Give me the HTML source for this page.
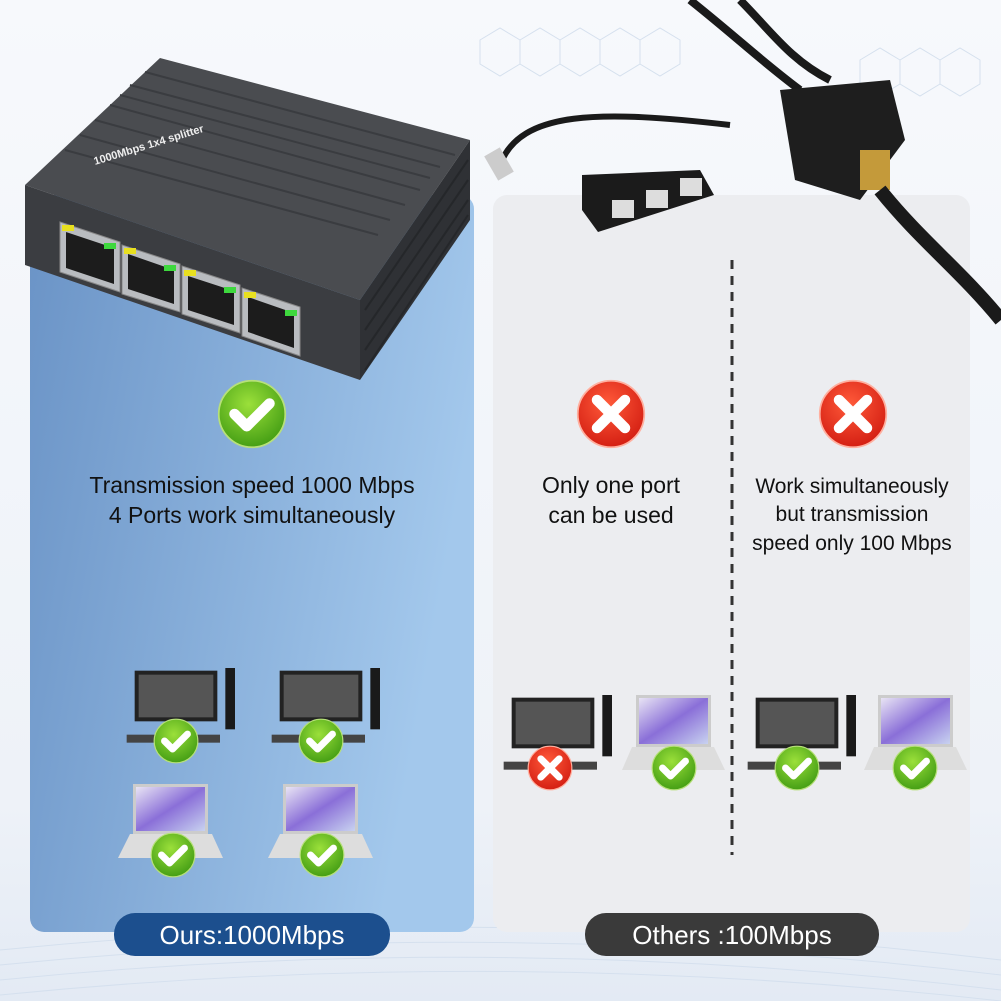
<!DOCTYPE html>
<html><head><meta charset="utf-8"><style>
html,body{margin:0;padding:0;width:1001px;height:1001px;overflow:hidden;background:#f4f7fb}
svg{display:block}
text{font-family:"Liberation Sans",Arial,sans-serif}
</style></head><body>
<svg width="1001" height="1001" viewBox="0 0 1001 1001" xmlns="http://www.w3.org/2000/svg">
<defs>
<linearGradient id="bg" x1="0" y1="0" x2="0" y2="1"><stop offset="0" stop-color="#f7f9fc"/><stop offset="0.8" stop-color="#eef2f8"/><stop offset="1" stop-color="#e3eaf4"/></linearGradient>
<linearGradient id="lp" x1="0" y1="0" x2="1" y2="0.3"><stop offset="0" stop-color="#6a93c6"/><stop offset="1" stop-color="#a3c8ec"/></linearGradient>
<radialGradient id="gc" cx="0.45" cy="0.35" r="0.7"><stop offset="0" stop-color="#9be03a"/><stop offset="1" stop-color="#3f9a12"/></radialGradient>
<radialGradient id="rc" cx="0.45" cy="0.35" r="0.7"><stop offset="0" stop-color="#ff5a3a"/><stop offset="1" stop-color="#d11b10"/></radialGradient>
<linearGradient id="scr" x1="0" y1="0" x2="1" y2="1"><stop offset="0" stop-color="#e8e4f4"/><stop offset="0.5" stop-color="#8a6fd8"/><stop offset="1" stop-color="#c8d2f0"/></linearGradient>
<g id="chk"><circle r="0" /></g>
<symbol id="ok" viewBox="-20 -20 40 40"><circle r="19" fill="url(#gc)" stroke="#b7e07a" stroke-width="1"/><path d="M-10 0 L-3 7 L10 -6" fill="none" stroke="#fff" stroke-width="6" stroke-linecap="round" stroke-linejoin="round"/></symbol>
<symbol id="no" viewBox="-20 -20 40 40"><circle r="19" fill="url(#rc)" stroke="#ffb0a0" stroke-width="1"/><path d="M-8 -8 L8 8 M8 -8 L-8 8" stroke="#fff" stroke-width="6" stroke-linecap="round"/></symbol>
<symbol id="pc" viewBox="0 0 80 60"><rect x="6" y="2" width="62" height="38" fill="#222"/><rect x="9" y="5" width="56" height="32" fill="#555"/><rect x="32" y="40" width="10" height="8" fill="#333"/><rect x="74" y="0" width="28" height="46" fill="#1a1a1a"/><rect x="0" y="50" width="70" height="6" fill="#444"/></symbol>
</defs>
<rect width="1001" height="1001" fill="url(#bg)"/>
<g stroke="#d5e0ee" stroke-width="1" fill="none">
<path d="M480 40 l20 -12 l20 12 v24 l-20 12 l-20 -12z M520 40 l20 -12 l20 12 v24 l-20 12 l-20 -12z M560 40 l20 -12 l20 12 v24 l-20 12 l-20 -12z M600 40 l20 -12 l20 12 v24 l-20 12 l-20 -12z M640 40 l20 -12 l20 12 v24 l-20 12 l-20 -12z M860 60 l20 -12 l20 12 v24 l-20 12 l-20 -12z M900 60 l20 -12 l20 12 v24 l-20 12 l-20 -12z M940 60 l20 -12 l20 12 v24 l-20 12 l-20 -12z"/>
<path d="M0 950 Q500 900 1001 960 M0 965 Q500 915 1001 975 M0 980 Q500 930 1001 990 M0 995 Q500 945 1001 1001"/>
</g>
<!-- left panel -->
<rect x="30" y="195" width="444" height="737" rx="14" fill="url(#lp)"/>
<!-- right panel -->
<rect x="493" y="195" width="477" height="737" rx="14" fill="#ecedf0"/>
<line x1="732" y1="260" x2="732" y2="855" stroke="#333" stroke-width="3" stroke-dasharray="9 7"/>
<!-- switch -->
<polygon points="25,185 160,58 470,140 360,300" fill="#4a4c50"/>
<g stroke="#3a3c40" stroke-width="2">
<line x1="110" y1="105" x2="420" y2="190"/><line x1="120" y1="95" x2="430" y2="178"/><line x1="95" y1="120" x2="405" y2="205"/><line x1="80" y1="135" x2="390" y2="220"/><line x1="130" y1="85" x2="440" y2="167"/><line x1="65" y1="150" x2="378" y2="235"/><line x1="145" y1="72" x2="455" y2="155"/>
</g>
<text x="0" y="0" transform="translate(95,165) rotate(-17)" fill="#eee" font-size="11" font-weight="bold">1000Mbps 1x4 splitter</text>
<polygon points="25,185 360,300 360,380 25,265" fill="#3b3d41"/>
<polygon points="360,300 470,140 470,220 360,380" fill="#2f3135"/>
<g stroke="#25272a" stroke-width="2"><line x1="365" y1="310" x2="468" y2="160"/><line x1="365" y1="330" x2="468" y2="180"/><line x1="365" y1="350" x2="468" y2="200"/><line x1="365" y1="370" x2="468" y2="215"/></g>
<g fill="#b9bcc0" stroke="#888"><polygon points="60,222 120,242 120,292 60,272"/><polygon points="122,245 180,264 180,312 122,294"/><polygon points="182,266 240,285 240,333 182,314"/><polygon points="242,288 300,307 300,356 242,336"/></g>
<g fill="#1c1c1c"><polygon points="66,232 114,248 114,284 66,268"/><polygon points="128,254 174,270 174,304 128,289"/><polygon points="188,276 234,291 234,325 188,310"/><polygon points="248,297 294,313 294,348 248,332"/></g>
<g fill="#e8e020"><rect x="62" y="225" width="12" height="6"/><rect x="124" y="248" width="12" height="6"/><rect x="184" y="270" width="12" height="6"/><rect x="244" y="292" width="12" height="6"/></g>
<g fill="#3ed83e"><rect x="104" y="243" width="12" height="6"/><rect x="164" y="265" width="12" height="6"/><rect x="224" y="287" width="12" height="6"/><rect x="285" y="310" width="12" height="6"/></g>
<!-- splitters -->
<path d="M500 165 C520 110 600 110 730 125" stroke="#1a1a1a" stroke-width="6" fill="none"/>
<rect x="490" y="150" width="18" height="28" fill="#ccc" transform="rotate(-30 499 164)"/>
<polygon points="582,175 700,170 714,195 598,232 582,210" fill="#1b1b1b"/>
<g fill="#ddd"><rect x="612" y="200" width="22" height="18"/><rect x="646" y="190" width="22" height="18"/><rect x="680" y="178" width="22" height="18"/></g>
<path d="M690 0 C740 40 760 60 800 90 M740 0 C770 30 790 60 830 80" stroke="#1a1a1a" stroke-width="8" fill="none"/>
<polygon points="780,90 890,80 905,140 860,200 795,180" fill="#1e1e1e"/>
<rect x="860" y="150" width="30" height="40" fill="#c49a3a"/>
<path d="M880 190 C920 240 960 270 1001 320" stroke="#1a1a1a" stroke-width="14" fill="none"/>
<!-- left content -->
<use href="#ok" x="217" y="379" width="70" height="70"/>
<text x="252" y="493" text-anchor="middle" font-size="23" fill="#111">Transmission speed 1000 Mbps</text>
<text x="252" y="523" text-anchor="middle" font-size="23" fill="#111">4 Ports work simultaneously</text>
<use href="#pc" x="125" y="668" width="110" height="80"/>
<use href="#pc" x="270" y="668" width="110" height="80"/>
<g><rect x="133" y="784" width="75" height="50" fill="#ccc"/><rect x="136" y="787" width="69" height="44" fill="url(#scr)"/><polygon points="118,858 223,858 212,834 130,834" fill="#ddd"/>
<rect x="283" y="784" width="75" height="50" fill="#ccc"/><rect x="286" y="787" width="69" height="44" fill="url(#scr)"/><polygon points="268,858 373,858 362,834 280,834" fill="#ddd"/></g>
<use href="#ok" x="153" y="718" width="46" height="46"/>
<use href="#ok" x="298" y="718" width="46" height="46"/>
<use href="#ok" x="150" y="832" width="46" height="46"/>
<use href="#ok" x="299" y="832" width="46" height="46"/>
<!-- right content -->
<use href="#no" x="576" y="379" width="70" height="70"/>
<use href="#no" x="818" y="379" width="70" height="70"/>
<text x="611" y="493" text-anchor="middle" font-size="23" fill="#111">Only one port</text>
<text x="611" y="523" text-anchor="middle" font-size="23" fill="#111">can be used</text>
<text x="852" y="493" text-anchor="middle" font-size="21" fill="#111">Work simultaneously</text>
<text x="852" y="521" text-anchor="middle" font-size="21" fill="#111">but transmission</text>
<text x="852" y="550" text-anchor="middle" font-size="21" fill="#111">speed only 100 Mbps</text>
<use href="#pc" x="502" y="695" width="110" height="80"/>
<use href="#pc" x="746" y="695" width="110" height="80"/>
<rect x="636" y="695" width="75" height="52" fill="#ccc"/><rect x="639" y="698" width="69" height="46" fill="url(#scr)"/><polygon points="622,770 725,770 714,747 632,747" fill="#ddd"/>
<rect x="878" y="695" width="75" height="52" fill="#ccc"/><rect x="881" y="698" width="69" height="46" fill="url(#scr)"/><polygon points="864,770 967,770 956,747 874,747" fill="#ddd"/>
<use href="#no" x="527" y="745" width="46" height="46"/>
<use href="#ok" x="651" y="745" width="46" height="46"/>
<use href="#ok" x="774" y="745" width="46" height="46"/>
<use href="#ok" x="892" y="745" width="46" height="46"/>
<!-- pills -->
<rect x="114" y="913" width="276" height="43" rx="21" fill="#1c4f8e"/>
<text x="252" y="944" text-anchor="middle" font-size="26" fill="#fff">Ours:1000Mbps</text>
<rect x="585" y="913" width="294" height="43" rx="21" fill="#3a3a3a"/>
<text x="732" y="944" text-anchor="middle" font-size="26" fill="#fff">Others :100Mbps</text>
</svg>
</body></html>
